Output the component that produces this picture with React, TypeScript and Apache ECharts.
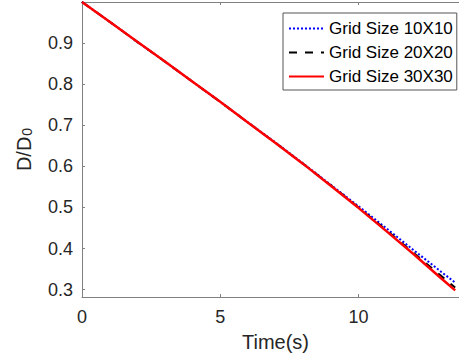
import React, { useEffect, useRef } from "react";
import * as echarts from "echarts";

const time = [0, 1, 2, 3, 4, 5, 6, 7, 8, 9, 10, 11, 12, 13, 13.5];
const grid10 = [1.0, 0.952, 0.903, 0.855, 0.806, 0.757, 0.707, 0.658, 0.607, 0.555, 0.503, 0.45, 0.396, 0.343, 0.317];
const grid20 = [1.0, 0.952, 0.903, 0.855, 0.806, 0.757, 0.707, 0.657, 0.606, 0.554, 0.5, 0.445, 0.389, 0.333, 0.305];
const grid30 = [1.0, 0.952, 0.903, 0.855, 0.806, 0.757, 0.707, 0.657, 0.606, 0.553, 0.499, 0.443, 0.386, 0.327, 0.298];
const seriesNames = ["Grid Size 10X10", "Grid Size 20X20", "Grid Size 30X30"];
const xTicks = [0, 5, 10];
const yTicks = [0.3, 0.4, 0.5, 0.6, 0.7, 0.8, 0.9];

const FONT = "Arial, 'Liberation Sans', Helvetica, sans-serif";
const AXIS = "#808080";
const LABEL = "#262626";

export default function App() {
  const ref = useRef<HTMLDivElement>(null);
  useEffect(() => {
    if (!ref.current) return;
    const chart = echarts.init(ref.current, null, { renderer: "svg" });
    const pts = (ys: number[]) => time.map((t, i) => [t, ys[i]]);
    const axisCommon = {
      axisLine: { show: true, onZero: false, lineStyle: { color: AXIS, width: 1 } },
      axisTick: { show: true, inside: true, length: 3, lineStyle: { color: AXIS } },
      splitLine: { show: false },
    };
    chart.setOption({
      animation: false,
      backgroundColor: "#ffffff",
      grid: { left: 81, right: 11, top: 2, bottom: 66 },
      xAxis: [
        {
          type: "value",
          min: 0,
          max: 14,
          ...axisCommon,
          axisTick: { ...axisCommon.axisTick, customValues: xTicks },
          axisLabel: { customValues: xTicks, fontSize: 18, color: LABEL, fontFamily: FONT, margin: 11 },
          name: "Time(s)",
          nameLocation: "middle",
          nameGap: 35,
          nameTextStyle: { fontSize: 20, color: LABEL, fontFamily: FONT },
        },
        {
          type: "value",
          position: "top",
          min: 0,
          max: 14,
          ...axisCommon,
          axisTick: { ...axisCommon.axisTick, customValues: xTicks },
          axisLabel: { show: false },
        },
      ],
      yAxis: [
        {
          type: "value",
          min: 0.282,
          max: 1.0,
          ...axisCommon,
          axisTick: { ...axisCommon.axisTick, customValues: yTicks },
          axisLabel: {
            customValues: yTicks,
            fontSize: 18,
            color: LABEL,
            fontFamily: FONT,
            margin: 9,
            formatter: (v: number) => v.toFixed(1),
          },
          name: "{a|D/D}{b|0}",
          nameLocation: "middle",
          nameGap: 48,
          nameRotate: 90,
          nameTextStyle: {
            color: LABEL,
            fontFamily: FONT,
            rich: {
              a: { fontSize: 20, color: LABEL, fontFamily: FONT, verticalAlign: "bottom", lineHeight: 24 },
              b: { fontSize: 14, color: LABEL, fontFamily: FONT, verticalAlign: "bottom", lineHeight: 14, padding: [12, 0, 0, 1] },
            },
          },
        },
        {
          type: "value",
          position: "right",
          min: 0.282,
          max: 1.0,
          ...axisCommon,
          axisTick: { ...axisCommon.axisTick, customValues: yTicks },
          axisLabel: { show: false },
        },
      ],
      legend: {
        orient: "vertical",
        left: 283,
        top: 13,
        selectedMode: false,
        backgroundColor: "#ffffff",
        borderColor: "#555555",
        borderWidth: 1,
        borderRadius: 0,
        padding: [5, 4, 3, 5],
        itemWidth: 35,
        itemHeight: 14,
        itemGap: 3,
        itemStyle: { opacity: 0 },
        textStyle: { fontSize: 17, color: "#000000", fontFamily: FONT, lineHeight: 21 },
        data: seriesNames,
      },
      series: [
        {
          name: seriesNames[0],
          type: "line",
          data: pts(grid10),
          symbol: "none",
          lineStyle: { color: "#0000ff", width: 2, type: [2, 2] },
          itemStyle: { color: "#0000ff" },
        },
        {
          name: seriesNames[1],
          type: "line",
          data: pts(grid20),
          symbol: "none",
          lineStyle: { color: "#000000", width: 2, type: [8, 8] },
          itemStyle: { color: "#000000" },
        },
        {
          name: seriesNames[2],
          type: "line",
          data: pts(grid30),
          symbol: "none",
          lineStyle: { color: "#ff0000", width: 2.5 },
          itemStyle: { color: "#ff0000" },
        },
      ],
    });
    return () => chart.dispose();
  }, []);
  return (
    <div style={{ position: "absolute", left: 0, top: 0, width: 459, height: 363, overflow: "hidden", background: "#fff" }}>
      <div ref={ref} style={{ width: 480, height: 363 }} />
    </div>
  );
}
